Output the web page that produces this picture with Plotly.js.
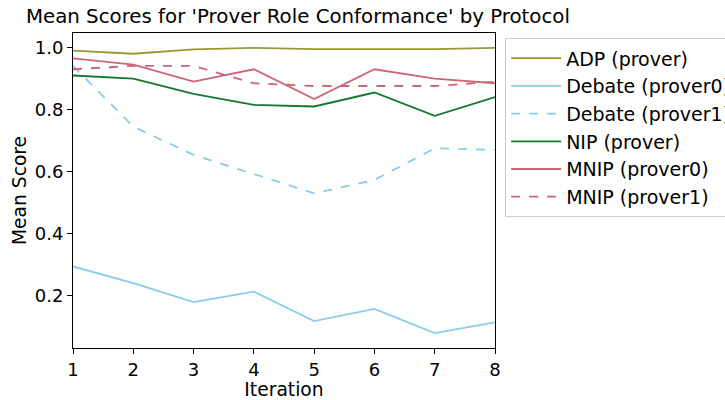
<!DOCTYPE html>
<html>
<head>
<meta charset="utf-8">
<script src="https://cdn.plot.ly/plotly-3.0.1.min.js"></script>
<style>html,body{margin:0;padding:0;background:#fff;overflow:hidden;}#wrap{width:725px;height:400px;overflow:hidden;}#chart{width:770px;height:400px;}</style>
</head>
<body>
<div id="wrap"><div id="chart"></div></div>
<script>
const iterations = [1, 2, 3, 4, 5, 6, 7, 8];
const adpProver = [0.991, 0.981, 0.995, 1.0, 0.996, 0.996, 0.996, 1.0];
const debateProver0 = [0.295, 0.241, 0.180, 0.214, 0.119, 0.158, 0.080, 0.115];
const debateProver1 = [0.942, 0.746, 0.655, 0.593, 0.531, 0.574, 0.676, 0.671];
const nipProver = [0.911, 0.901, 0.852, 0.816, 0.811, 0.856, 0.781, 0.841];
const mnipProver0 = [0.966, 0.946, 0.891, 0.931, 0.835, 0.931, 0.901, 0.886];
const mnipProver1 = [0.931, 0.942, 0.942, 0.886, 0.877, 0.877, 0.877, 0.891];

const seriesNames = ['ADP (prover)', 'Debate (prover0)', 'Debate (prover1)', 'NIP (prover)', 'MNIP (prover0)', 'MNIP (prover1)'];
const seriesData = [adpProver, debateProver0, debateProver1, nipProver, mnipProver0, mnipProver1];
const seriesColors = ['#999933', '#88CCEE', '#88CCEE', '#117733', '#CC6677', '#CC6677'];
const seriesDash = ['solid', 'solid', 'dash', 'solid', 'solid', 'dash'];

const traces = seriesNames.map((name, i) => ({
  x: iterations,
  y: seriesData[i],
  name: name,
  type: 'scatter',
  mode: 'lines',
  legendgroup: 'g' + i,
  line: {color: seriesColors[i], width: 1.8, dash: seriesDash[i]}
}));

const layout = {
  width: 770,
  height: 400,
  margin: {l: 73, r: 275, t: 33, b: 52},
  paper_bgcolor: '#ffffff',
  plot_bgcolor: '#ffffff',
  font: {family: 'DejaVu Sans', color: '#000000', size: 18},
  title: {
    text: "Mean Scores for 'Prover Role Conformance' by Protocol",
    font: {size: 19.8, color: '#000000'},
    x: 0.533, xref: 'paper', xanchor: 'center',
    y: 0.96, yref: 'container', yanchor: 'middle'
  },
  xaxis: {
    range: [1, 8],
    tickvals: iterations,
    ticks: 'outside', ticklen: 5, tickcolor: '#000',
    showline: true, linecolor: '#000', linewidth: 1, mirror: true,
    showgrid: false, zeroline: false,
    tickfont: {size: 18},
    title: {text: 'Iteration', font: {size: 18.7}, standoff: 2}
  },
  yaxis: {
    range: [0.032, 1.048],
    tickvals: [0.2, 0.4, 0.6, 0.8, 1.0],
    ticktext: ['0.2', '0.4', '0.6', '0.8', '1.0'],
    ticks: 'outside', ticklen: 5, tickcolor: '#000',
    showline: true, linecolor: '#000', linewidth: 1, mirror: true,
    showgrid: false, zeroline: false,
    tickfont: {size: 18},
    title: {text: 'Mean Score', font: {size: 18.7}, standoff: 3}
  },
  showlegend: true,
  legend: {
    x: 1.024, xanchor: 'left', xref: 'paper',
    y: 0.983, yanchor: 'top', yref: 'paper',
    font: {size: 19, color: '#000'},
    bordercolor: '#cccccc', borderwidth: 1,
    bgcolor: '#ffffff',
    traceorder: 'grouped',
    tracegroupgap: 0,
    itemwidth: 50
  }
};

Plotly.newPlot('chart', traces, layout, {displayModeBar: false, staticPlot: true});
</script>
</body>
</html>
